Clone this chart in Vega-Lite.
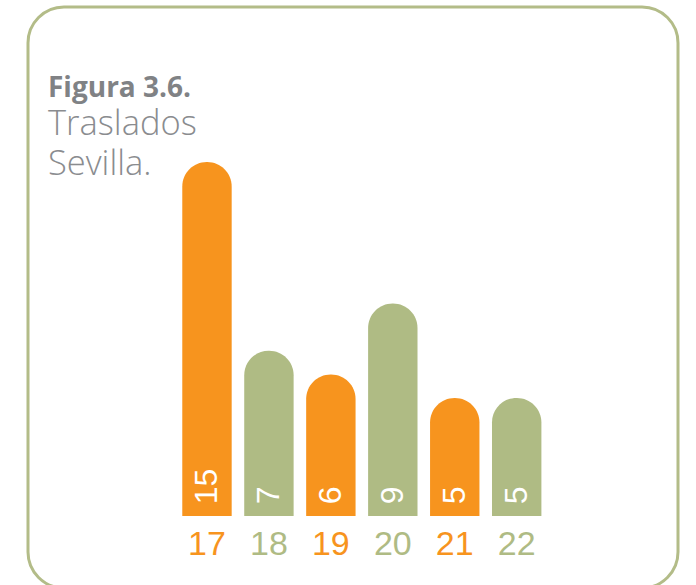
{
  "$schema": "https://vega.github.io/schema/vega-lite/v6.json",
  "width": 650,
  "height": 581,
  "autosize": "none",
  "padding": {"left": 28, "top": 7, "right": 18, "bottom": -3},
  "background": "white",
  "config": {"view": {"stroke": "#b3bc88", "strokeWidth": 3, "cornerRadius": 36}},
  "title": {
    "text": "Figura 3.6.",
    "subtitle": ["Traslados", "Sevilla."],
    "anchor": "start",
    "frame": "group",
    "orient": "top",
    "dx": 20,
    "offset": -174,
    "font": "Open Sans",
    "fontSize": 28,
    "fontWeight": "bold",
    "color": "#808285",
    "subtitleFont": "Open Sans",
    "subtitleFontSize": 34.5,
    "subtitleFontWeight": 300,
    "subtitleColor": "#8a8c8f",
    "subtitleLineHeight": 40,
    "subtitlePadding": 5
  },
  "data": {
    "values": [
      {"year": "17", "value": 15, "grupo": "a"},
      {"year": "18", "value": 7, "grupo": "b"},
      {"year": "19", "value": 6, "grupo": "a"},
      {"year": "20", "value": 9, "grupo": "b"},
      {"year": "21", "value": 5, "grupo": "a"},
      {"year": "22", "value": 5, "grupo": "b"}
    ]
  },
  "encoding": {
    "x": {
      "field": "year",
      "type": "ordinal",
      "scale": {
        "domain": ["p1", "p2", "17", "18", "19", "20", "21", "22", "q1", "q2"],
        "paddingInner": 0.2025,
        "paddingOuter": 0.348,
        "align": 0.705
      },
      "axis": null
    }
  },
  "layer": [
    {
      "mark": {"type": "bar", "cornerRadiusTopLeft": 24.5, "cornerRadiusTopRight": 24.5},
      "encoding": {
        "y": {"field": "value", "type": "quantitative", "scale": {"domain": [-3.051, 21.568], "nice": false, "zero": false}, "axis": null},
        "y2": {"datum": 0},
        "color": {"field": "grupo", "type": "nominal", "scale": {"domain": ["a", "b"], "range": ["#f7941e", "#afbb84"]}, "legend": null}
      }
    },
    {
      "mark": {"type": "text", "angle": 270, "align": "left", "baseline": "middle", "color": "white", "font": "Liberation Sans", "fontSize": 32},
      "encoding": {
        "y": {"datum": 0.5, "type": "quantitative", "axis": null},
        "text": {"field": "value", "type": "quantitative"}
      }
    },
    {
      "mark": {"type": "text", "baseline": "alphabetic", "align": "center", "font": "Liberation Sans", "fontSize": 34},
      "encoding": {
        "y": {"datum": -1.65, "type": "quantitative", "axis": null},
        "text": {"field": "year", "type": "nominal"},
        "color": {"field": "grupo", "type": "nominal", "scale": {"domain": ["a", "b"], "range": ["#f7941e", "#afbb84"]}, "legend": null}
      }
    }
  ]
}
